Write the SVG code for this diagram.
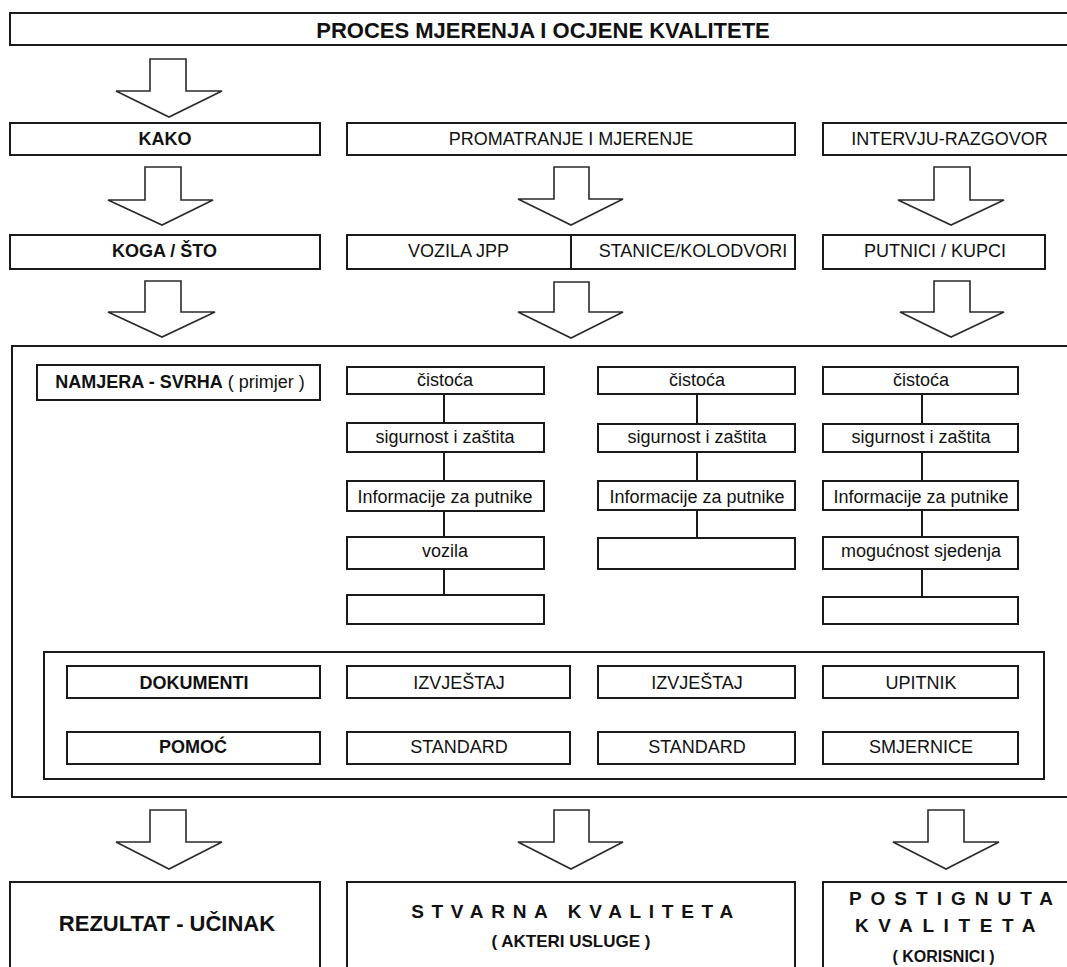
<svg xmlns="http://www.w3.org/2000/svg" width="1067" height="967" viewBox="0 0 1067 967">
<style>
.box{fill:#fff;stroke:#1a1a1a;stroke-width:2}
.frame{fill:none;stroke:#1a1a1a;stroke-width:2}
.arr{fill:#fff;stroke:#2a2a2a;stroke-width:1.6;stroke-linejoin:miter}
.con{stroke:#1a1a1a;stroke-width:2;fill:none}
text{font-family:"Liberation Sans",Arial,sans-serif;fill:#111;text-anchor:middle}
.b{font-weight:bold}
.t18{font-size:18px}
</style>
<rect x="0" y="0" width="1067" height="967" fill="#fff"/>

<g id="main-frame"><rect class="frame" x="12" y="346" width="1062" height="451"/></g>
<g id="docs-frame"><rect class="frame" x="44" y="652" width="1000" height="127"/></g>

<g id="title"><rect class="box" x="10" y="13" width="1062" height="32"/><text class="b" x="543" y="37.5" font-size="22">PROCES MJERENJA I OCJENE KVALITETE</text></g>

<g id="connectors">
<polygon class="arr" points="150,59 186,59 186,91 222,91 169,117 116,91 150,91"/>
<polygon class="arr" points="145,167 181,167 181,200 213,200 162,225 108,200 145,200"/>
<polygon class="arr" points="554,167 589,167 589,199 623,199 571,225 518,199 554,199"/>
<polygon class="arr" points="934,167 970,167 970,200 1004,200 951,225 898,200 934,200"/>
<polygon class="arr" points="145,281 181,281 181,312 215,312 162,337 108,312 145,312"/>
<polygon class="arr" points="554,282 589,282 589,312 623,312 571,338 518,312 554,312"/>
<polygon class="arr" points="934,281 970,281 970,312 1004,312 951,337 900,312 934,312"/>
<polygon class="arr" points="150,810 186,810 186,842 222,842 169,869 116,842 150,842"/>
<polygon class="arr" points="554,810 589,810 589,842 623,842 571,869 518,842 554,842"/>
<polygon class="arr" points="928,810 964,810 964,842 999,842 946,869 893,842 928,842"/>
<path class="con" d="M444,394V423M444,452V481M444,511V537M444,569V595"/>
<path class="con" d="M697,394V424M697,452V481M697,510V538"/>
<path class="con" d="M922,394V424M922,452V481M922,510V537M922,569V597"/>
</g>

<g id="kako"><rect class="box" x="10" y="123" width="310" height="32"/><text class="b t18" x="165" y="145">KAKO</text></g>
<g id="promatranje"><rect class="box" x="347" y="123" width="448" height="32"/><text class="t18" x="571" y="145">PROMATRANJE I MJERENJE</text></g>
<g id="intervju"><rect class="box" x="823" y="123" width="250" height="32"/><text class="t18" x="949.5" y="145">INTERVJU-RAZGOVOR</text></g>

<g id="koga"><rect class="box" x="10" y="235" width="310" height="34"/><text class="b t18" x="164.5" y="257">KOGA / ŠTO</text></g>
<g id="vozila-stanice"><rect class="box" x="347" y="235" width="448" height="34"/><line class="con" x1="571" y1="235" x2="571" y2="269"/><text class="t18" x="458.5" y="257">VOZILA JPP</text><text class="t18" x="693" y="257">STANICE/KOLODVORI</text></g>
<g id="putnici"><rect class="box" x="823" y="235" width="222" height="34"/><text class="t18" x="935" y="257">PUTNICI / KUPCI</text></g>

<g id="namjera"><rect class="box" x="37" y="365" width="283" height="35"/><text class="t18" x="180" y="388"><tspan class="b">NAMJERA - SVRHA</tspan> ( primjer )</text></g>

<g id="c1r1"><rect class="box" x="347" y="367" width="197" height="27"/><text class="t18" x="445" y="386">čistoća</text></g>
<g id="c1r2"><rect class="box" x="347" y="423" width="197" height="29"/><text class="t18" x="445" y="443">sigurnost i zaštita</text></g>
<g id="c1r3"><rect class="box" x="347" y="481" width="197" height="30"/><text class="t18" x="445" y="502.5">Informacije za putnike</text></g>
<g id="c1r4"><rect class="box" x="347" y="537" width="197" height="32"/><text class="t18" x="445" y="557">vozila</text></g>
<g id="c1r5"><rect class="box" x="347" y="595" width="197" height="29"/></g>

<g id="c2r1"><rect class="box" x="598" y="367" width="197" height="27"/><text class="t18" x="697" y="386">čistoća</text></g>
<g id="c2r2"><rect class="box" x="598" y="424" width="197" height="28"/><text class="t18" x="697" y="443">sigurnost i zaštita</text></g>
<g id="c2r3"><rect class="box" x="598" y="481" width="197" height="29"/><text class="t18" x="697" y="502.5">Informacije za putnike</text></g>
<g id="c2r4"><rect class="box" x="598" y="538" width="197" height="31"/></g>

<g id="c3r1"><rect class="box" x="823" y="367" width="195" height="27"/><text class="t18" x="921" y="386">čistoća</text></g>
<g id="c3r2"><rect class="box" x="823" y="424" width="195" height="28"/><text class="t18" x="921" y="443">sigurnost i zaštita</text></g>
<g id="c3r3"><rect class="box" x="823" y="481" width="195" height="29"/><text class="t18" x="921" y="502.5">Informacije za putnike</text></g>
<g id="c3r4"><rect class="box" x="823" y="537" width="195" height="32"/><text class="t18" x="921" y="557">mogućnost sjedenja</text></g>
<g id="c3r5"><rect class="box" x="823" y="597" width="195" height="27"/></g>

<g id="dokumenti"><rect class="box" x="67" y="666" width="253" height="32"/><text class="b t18" x="194" y="688.5">DOKUMENTI</text></g>
<g id="izvjestaj1"><rect class="box" x="347" y="666" width="223" height="32"/><text class="t18" x="459" y="688.5">IZVJEŠTAJ</text></g>
<g id="izvjestaj2"><rect class="box" x="598" y="666" width="197" height="32"/><text class="t18" x="697" y="688.5">IZVJEŠTAJ</text></g>
<g id="upitnik"><rect class="box" x="823" y="666" width="195" height="32"/><text class="t18" x="921" y="688.5">UPITNIK</text></g>
<g id="pomoc"><rect class="box" x="67" y="732" width="253" height="32"/><text class="b t18" x="193" y="752.5">POMOĆ</text></g>
<g id="standard1"><rect class="box" x="347" y="732" width="223" height="32"/><text class="t18" x="459" y="752.5">STANDARD</text></g>
<g id="standard2"><rect class="box" x="598" y="732" width="197" height="32"/><text class="t18" x="697" y="752.5">STANDARD</text></g>
<g id="smjernice"><rect class="box" x="823" y="732" width="195" height="32"/><text class="t18" x="921" y="752.5">SMJERNICE</text></g>

<g id="rezultat"><rect class="box" x="10" y="882" width="310" height="100"/><text class="b" x="167" y="930.5" font-size="22">REZULTAT - UČINAK</text></g>
<g id="stvarna"><rect class="box" x="347" y="882" width="448" height="100"/><text class="b" x="576" y="918" font-size="19" letter-spacing="7.7">STVARNA KVALITETA</text><text class="b" x="571" y="946.5" font-size="17">( AKTERI USLUGE )</text></g>
<g id="postignuta"><rect class="box" x="823" y="882" width="250" height="100"/><text class="b" x="955.5" y="905" font-size="19" letter-spacing="9">POSTIGNUTA</text><text class="b" x="950" y="931.5" font-size="19" letter-spacing="9.6">KVALITETA</text><text class="b" x="943.5" y="961.5" font-size="16">( KORISNICI )</text></g>
</svg>
